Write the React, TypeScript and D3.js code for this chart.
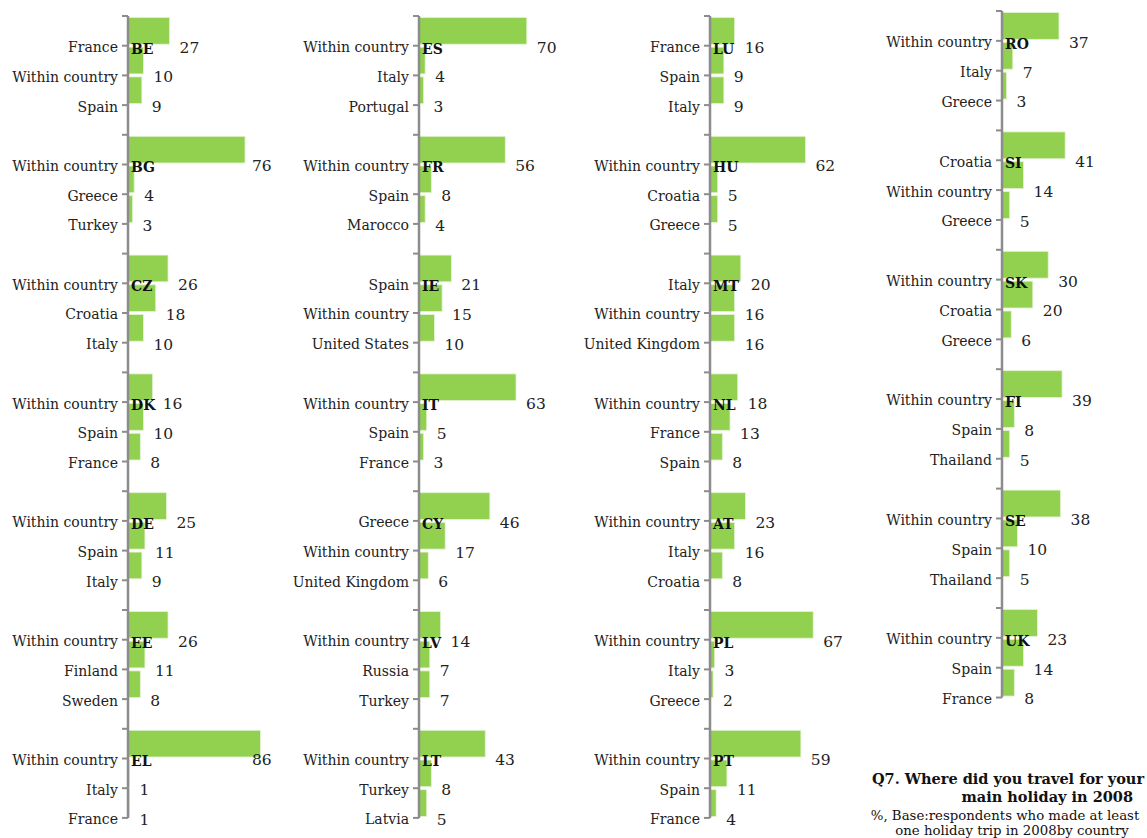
import React from 'react';
import * as d3 from 'd3';

// countries in reading order, column by column
const countries = [
  'BE', 'BG', 'CZ', 'DK', 'DE', 'EE', 'EL',
  'ES', 'FR', 'IE', 'IT', 'CY', 'LV', 'LT',
  'LU', 'HU', 'MT', 'NL', 'AT', 'PL', 'PT',
  'RO', 'SI', 'SK', 'FI', 'SE', 'UK',
];

const destinations = [
  ['France', 'Within country', 'Spain'],
  ['Within country', 'Greece', 'Turkey'],
  ['Within country', 'Croatia', 'Italy'],
  ['Within country', 'Spain', 'France'],
  ['Within country', 'Spain', 'Italy'],
  ['Within country', 'Finland', 'Sweden'],
  ['Within country', 'Italy', 'France'],
  ['Within country', 'Italy', 'Portugal'],
  ['Within country', 'Spain', 'Marocco'],
  ['Spain', 'Within country', 'United States'],
  ['Within country', 'Spain', 'France'],
  ['Greece', 'Within country', 'United Kingdom'],
  ['Within country', 'Russia', 'Turkey'],
  ['Within country', 'Turkey', 'Latvia'],
  ['France', 'Spain', 'Italy'],
  ['Within country', 'Croatia', 'Greece'],
  ['Italy', 'Within country', 'United Kingdom'],
  ['Within country', 'France', 'Spain'],
  ['Within country', 'Italy', 'Croatia'],
  ['Within country', 'Italy', 'Greece'],
  ['Within country', 'Spain', 'France'],
  ['Within country', 'Italy', 'Greece'],
  ['Croatia', 'Within country', 'Greece'],
  ['Within country', 'Croatia', 'Greece'],
  ['Within country', 'Spain', 'Thailand'],
  ['Within country', 'Spain', 'Thailand'],
  ['Within country', 'Spain', 'France'],
];

const shares = [
  [27, 10, 9], [76, 4, 3], [26, 18, 10], [16, 10, 8], [25, 11, 9], [26, 11, 8], [86, 1, 1],
  [70, 4, 3], [56, 8, 4], [21, 15, 10], [63, 5, 3], [46, 17, 6], [14, 7, 7], [43, 8, 5],
  [16, 9, 9], [62, 5, 5], [20, 16, 16], [18, 13, 8], [23, 16, 8], [67, 3, 2], [59, 11, 4],
  [37, 7, 3], [41, 14, 5], [30, 20, 6], [39, 8, 5], [38, 10, 5], [23, 14, 8],
];

const columnSizes = [7, 7, 7, 6];

const titleLines = [
  'Q7. Where did you travel for your',
  'main holiday in 2008',
  '%, Base:respondents who made at least',
  'one holiday trip in 2008by country',
];

const W = 1147;
const H = 838;
const axisX = [128, 419, 710, 1002];
const colTop = [16, 16, 16, 11];
const slotH = [29.7, 29.7, 29.7, 29.85];
const FONT = '"DejaVu Serif", Georgia, serif';
const GREEN = '#92d050';
const GREY = '#8c8c8c';

const x = d3.scaleLinear().domain([0, 100]).range([0, 154]);

function Column({ ci }: { ci: number }) {
  const start = d3.sum(columnSizes.slice(0, ci));
  const n = columnSizes[ci];
  const idx = d3.range(start, start + n);
  const slots = n * 4 - 1;
  const y = d3
    .scaleBand<number>()
    .domain(d3.range(slots))
    .range([colTop[ci], colTop[ci] + slots * slotH[ci]]);
  const bw = y.bandwidth();
  const ax = axisX[ci];
  const ticks = d3.range(slots + 1).map((k) => colTop[ci] + k * bw);

  return (
    <g>
      {idx.map((c, g) => (
        <g key={c}>
          {shares[c].map((v, i) => {
            const yb = y(g * 4 + i)!;
            const yl = yb + bw + 1.5;
            return (
              <g key={i}>
                <rect
                  x={ax}
                  y={yb + 1.5}
                  width={x(v)}
                  height={bw - 3}
                  fill={GREEN}
                  stroke="#e4f3d4"
                  strokeWidth={0.8}
                />
                <text
                  x={ax - 10}
                  y={yl}
                  dy="0.35em"
                  textAnchor="end"
                  fontSize={14}
                  fill="#222"
                >
                  {destinations[c][i]}
                </text>
                <text
                  x={ax + Math.min(x(v) + 10, 124)}
                  y={yl}
                  dy="0.35em"
                  fontSize={15.5}
                  fill="#222"
                >
                  {v}
                </text>
              </g>
            );
          })}
          <text
            x={ax + 3}
            y={y(g * 4)! + bw + 3}
            dy="0.35em"
            fontSize={14}
            fontWeight="bold"
            fill="#111"
          >
            {countries[c]}
          </text>
        </g>
      ))}
      <line x1={ax} x2={ax} y1={ticks[0]} y2={ticks[ticks.length - 1]} stroke={GREY} strokeWidth={2.5} />
      {ticks.map((t, k) => (
        <line key={k} x1={ax - 6} x2={ax} y1={t} y2={t} stroke={GREY} strokeWidth={2} />
      ))}
    </g>
  );
}

export default function App() {
  return (
    <div style={{ position: 'absolute', left: 0, top: 0 }}>
      <svg width={W} height={H} style={{ display: 'block', background: '#fff' }} fontFamily={FONT}>
        {columnSizes.map((_, ci) => (
          <Column key={ci} ci={ci} />
        ))}
        <g fill="#111">
          <text x={1008} y={784} textAnchor="middle" fontSize={14.5} fontWeight="bold">
            {titleLines[0]}
          </text>
          <text x={1133} y={802} textAnchor="end" fontSize={14.5} fontWeight="bold">
            {titleLines[1]}
          </text>
          <text x={1005} y={820} textAnchor="middle" fontSize={13.3}>
            {titleLines[2]}
          </text>
          <text x={1012} y={835} textAnchor="middle" fontSize={13.3}>
            {titleLines[3]}
          </text>
        </g>
      </svg>
    </div>
  );
}
